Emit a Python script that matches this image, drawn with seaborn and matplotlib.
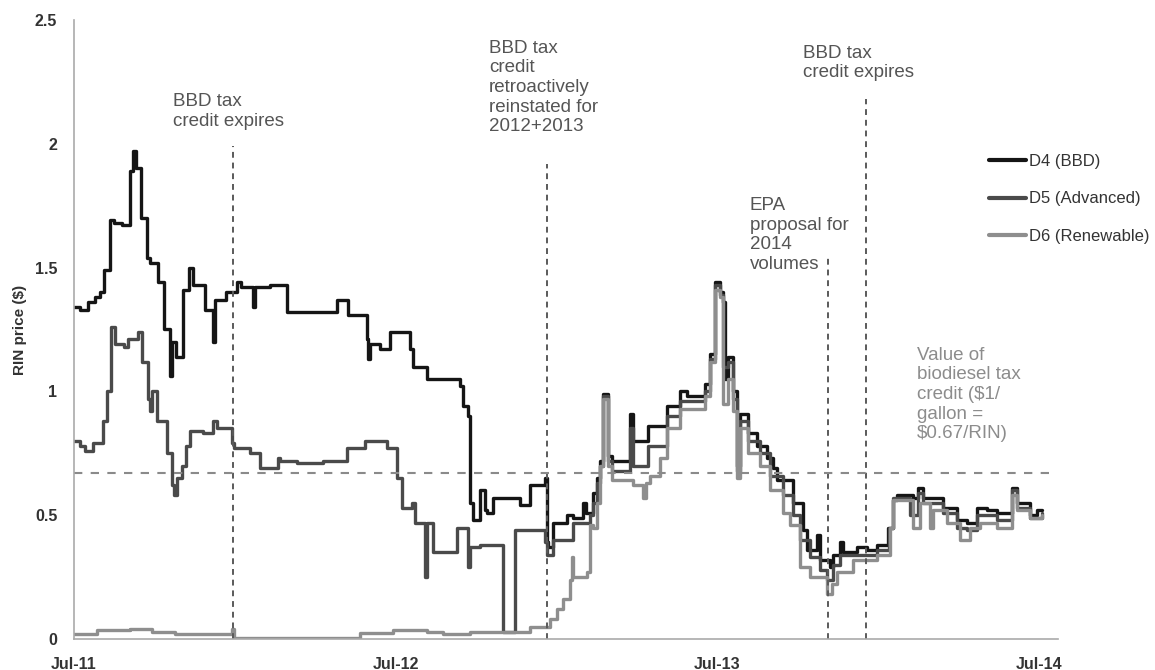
import pandas as pd
import seaborn as sns
import matplotlib.pyplot as plt
from matplotlib.lines import Line2D

# months since Jul-2011, RIN price ($)
d4 = [(0.0, 1.34), (0.22, 1.33), (0.52, 1.36), (0.78, 1.38), (0.97, 1.40), (1.12, 1.49),
      (1.34, 1.69), (1.49, 1.68), (1.79, 1.67), (2.09, 1.89), (2.20, 1.97), (2.31, 1.90),
      (2.50, 1.70), (2.72, 1.54), (2.84, 1.52), (3.13, 1.44), (3.36, 1.25), (3.58, 1.06),
      (3.66, 1.20), (3.81, 1.14), (4.07, 1.41), (4.29, 1.50), (4.44, 1.43), (4.89, 1.33),
      (5.19, 1.20), (5.26, 1.37), (5.67, 1.40), (6.08, 1.44), (6.23, 1.42), (6.68, 1.34),
      (6.75, 1.42), (7.31, 1.43), (7.95, 1.32), (9.81, 1.37), (10.22, 1.31), (10.93, 1.21),
      (10.97, 1.13), (11.04, 1.19), (11.42, 1.17), (11.79, 1.24), (12.54, 1.17), (12.65, 1.10),
      (13.17, 1.05), (14.40, 1.02), (14.51, 0.94), (14.70, 0.90), (14.78, 0.55), (14.89, 0.48),
      (15.15, 0.60), (15.34, 0.52), (15.41, 0.51), (15.63, 0.57), (16.64, 0.54), (17.01, 0.62),
      (17.57, 0.65), (17.65, 0.39), (17.69, 0.37), (17.87, 0.47), (18.40, 0.50), (18.62, 0.49),
      (18.99, 0.55), (19.10, 0.51), (19.37, 0.59), (19.51, 0.65), (19.63, 0.72), (19.74, 0.99),
      (19.93, 0.74), (20.07, 0.72), (20.75, 0.91), (20.86, 0.80), (21.42, 0.86), (22.13, 0.94),
      (22.61, 1.00), (22.87, 0.98), (23.54, 1.03), (23.73, 1.15), (23.92, 1.44), (24.10, 1.40),
      (24.22, 1.36), (24.29, 1.05), (24.40, 1.14), (24.59, 1.00), (24.74, 0.70), (24.85, 0.91),
      (25.15, 0.83), (25.49, 0.78), (25.86, 0.73), (26.08, 0.69), (26.23, 0.64), (26.83, 0.55),
      (27.20, 0.44), (27.35, 0.36), (27.72, 0.42), (27.84, 0.32), (28.21, 0.29), (28.32, 0.34),
      (28.58, 0.39), (28.69, 0.35), (29.22, 0.37), (29.59, 0.36), (29.96, 0.38), (30.37, 0.45),
      (30.56, 0.56), (30.71, 0.58), (31.31, 0.57), (31.49, 0.61), (31.68, 0.57), (32.43, 0.53),
      (32.95, 0.48), (33.32, 0.47), (33.69, 0.53), (34.07, 0.52), (34.44, 0.51), (35.00, 0.61),
      (35.19, 0.55), (35.67, 0.50), (35.93, 0.52), (36.12, 0.52)]

d5 = [(0.0, 0.80), (0.22, 0.78), (0.41, 0.76), (0.71, 0.79), (1.08, 0.88), (1.23, 1.00),
      (1.38, 1.26), (1.53, 1.19), (1.87, 1.18), (2.01, 1.21), (2.39, 1.24), (2.54, 1.12),
      (2.76, 0.97), (2.84, 0.92), (2.91, 1.00), (3.10, 0.88), (3.47, 0.75), (3.66, 0.62),
      (3.73, 0.58), (3.84, 0.65), (4.03, 0.70), (4.18, 0.78), (4.33, 0.84), (4.81, 0.83),
      (5.19, 0.88), (5.34, 0.85), (5.90, 0.79), (5.97, 0.77), (6.57, 0.75), (6.94, 0.69),
      (7.61, 0.73), (7.69, 0.72), (8.32, 0.71), (9.29, 0.72), (10.19, 0.77), (10.86, 0.80),
      (11.68, 0.77), (12.05, 0.65), (12.24, 0.53), (12.61, 0.55), (12.72, 0.47), (13.10, 0.25),
      (13.17, 0.47), (13.40, 0.35), (14.29, 0.45), (14.70, 0.29), (14.78, 0.37), (15.15, 0.38),
      (16.01, 0.03), (16.46, 0.44), (17.57, 0.39), (17.65, 0.34), (17.87, 0.40), (18.62, 0.47),
      (19.25, 0.50), (19.37, 0.55), (19.51, 0.63), (19.63, 0.70), (19.74, 0.98), (19.93, 0.72),
      (20.07, 0.68), (20.75, 0.85), (20.86, 0.70), (21.42, 0.78), (22.13, 0.90), (22.61, 0.96),
      (23.54, 1.00), (23.73, 1.13), (23.92, 1.43), (24.10, 1.39), (24.22, 1.10), (24.40, 1.12),
      (24.59, 0.97), (24.74, 0.68), (24.85, 0.88), (25.15, 0.80), (25.60, 0.75), (25.97, 0.66),
      (26.46, 0.58), (26.83, 0.50), (27.09, 0.40), (27.46, 0.33), (27.84, 0.28), (28.10, 0.24),
      (28.32, 0.30), (28.58, 0.34), (29.07, 0.34), (29.96, 0.36), (30.41, 0.45), (30.56, 0.57),
      (31.19, 0.50), (31.49, 0.59), (31.68, 0.55), (32.43, 0.51), (32.95, 0.45), (33.32, 0.44),
      (33.69, 0.50), (34.44, 0.48), (35.00, 0.60), (35.19, 0.53), (35.67, 0.49), (36.12, 0.51)]

d6 = [(0.0, 0.02), (0.86, 0.035), (2.09, 0.04), (2.91, 0.03), (3.77, 0.02), (5.90, 0.04),
      (5.97, 0.005), (10.67, 0.025), (11.90, 0.035), (13.17, 0.03), (13.77, 0.02), (14.78, 0.03),
      (17.01, 0.05), (17.76, 0.08), (18.02, 0.12), (18.25, 0.16), (18.51, 0.24), (18.58, 0.33),
      (18.62, 0.25), (19.14, 0.27), (19.25, 0.46), (19.37, 0.45), (19.51, 0.55), (19.63, 0.70),
      (19.74, 0.97), (19.93, 0.70), (20.07, 0.64), (20.86, 0.62), (21.23, 0.57), (21.34, 0.63),
      (21.49, 0.66), (21.87, 0.73), (22.13, 0.85), (22.61, 0.93), (23.54, 0.98), (23.73, 1.12),
      (23.92, 1.41), (24.10, 1.38), (24.22, 0.95), (24.40, 1.05), (24.59, 0.92), (24.74, 0.65),
      (24.85, 0.85), (25.15, 0.75), (25.60, 0.70), (25.97, 0.60), (26.46, 0.51), (26.72, 0.46),
      (27.09, 0.29), (27.46, 0.25), (28.10, 0.18), (28.28, 0.22), (28.47, 0.27), (29.07, 0.32),
      (29.96, 0.34), (30.45, 0.45), (30.56, 0.56), (31.31, 0.45), (31.57, 0.55), (31.94, 0.45),
      (32.05, 0.52), (32.57, 0.47), (33.06, 0.40), (33.43, 0.45), (33.81, 0.47), (34.44, 0.45),
      (35.00, 0.58), (35.19, 0.52), (35.67, 0.49), (36.12, 0.50)]

series_names = ["D4 (BBD)", "D5 (Advanced)", "D6 (Renewable)"]
series_colors = ["#151515", "#4a4a4a", "#8e8e8e"]

tick_months = [0, 12, 24, 36]
tick_labels = ["Jul-11", "Jul-12", "Jul-13", "Jul-14"]

# event lines: month, top of dashed line
event_month = [5.93, 17.65, 28.13, 29.55]
event_top = [1.99, 1.92, 1.55, 2.18]
tax_credit = 0.67

frames = []
for name, pts in zip(series_names, [d4, d5, d6]):
    f = pd.DataFrame(pts, columns=["month", "price"])
    f["series"] = name
    frames.append(f)
df = pd.concat(frames, ignore_index=True)

sns.set_style("white")
plt.rcParams['font.family'] = ['Liberation Sans', 'DejaVu Sans']

fig = plt.figure(figsize=(11.55, 6.7), dpi=100)
ax = fig.add_axes([0.0641, 0.0463, 0.852, 0.924])

sns.lineplot(data=df, x="month", y="price", hue="series", hue_order=series_names,
             palette=dict(zip(series_names, series_colors)), drawstyle="steps-post",
             linewidth=2.4, errorbar=None, legend=False, ax=ax)

ax.vlines(event_month, 0, event_top, colors="#5a5a5a", linestyles=(0, (3, 2.5)), linewidth=1.4)
ax.hlines(tax_credit, 0, 36.4, colors="#8a8a8a", linestyles=(0, (4, 4)), linewidth=1.5)

txt = dict(fontsize=13.5, color="#555555", va="top", ha="left", linespacing=1.2)
ax.text(3.69, 2.205, "BBD tax\ncredit expires", **txt)
ax.text(15.49, 2.42, "BBD tax\ncredit\nretroactively\nreinstated for\n2012+2013", **txt)
ax.text(27.2, 2.40, "BBD tax\ncredit expires", **txt)
ax.text(25.22, 1.785, "EPA\nproposal for\n2014\nvolumes", **txt)
txt["color"] = "#8c8c8c"
ax.text(31.46, 1.18, "Value of\nbiodiesel tax\ncredit ($1/\ngallon =\n$0.67/RIN)", **txt)

ax.set_xlim(0, 36.72)
ax.set_ylim(0, 2.5)
ax.set_xticks(tick_months)
ax.set_xticklabels(tick_labels)
ax.set_yticks([0, 0.5, 1, 1.5, 2, 2.5])
ax.set_yticklabels(["0", "0.5", "1", "1.5", "2", "2.5"])
ax.set_xlabel("")
ax.set_ylabel("RIN price ($)", fontsize=11, fontweight="bold", color="#333333", labelpad=6)
ax.tick_params(axis="both", labelsize=11.5, colors="#333333", length=3, width=1, color="#999999")
ax.tick_params(axis="y", pad=9)
ax.tick_params(axis="x", pad=10)
for lab in ax.get_xticklabels() + ax.get_yticklabels():
    lab.set_fontweight("bold")
sns.despine(ax=ax)
for s in ["left", "bottom"]:
    ax.spines[s].set_color("#aaaaaa")
    ax.spines[s].set_linewidth(1.2)

handles = [Line2D([], [], color=c, linewidth=3) for c in series_colors]
fig.legend(handles, series_names, loc="upper left", bbox_to_anchor=(989 / 1155, 1 - 154 / 670),
           frameon=False, fontsize=12, handlelength=2.2, handletextpad=0.2,
           labelspacing=1.35, borderpad=0, borderaxespad=0, labelcolor="#333333")

fig.savefig("out.png", dpi=100)
